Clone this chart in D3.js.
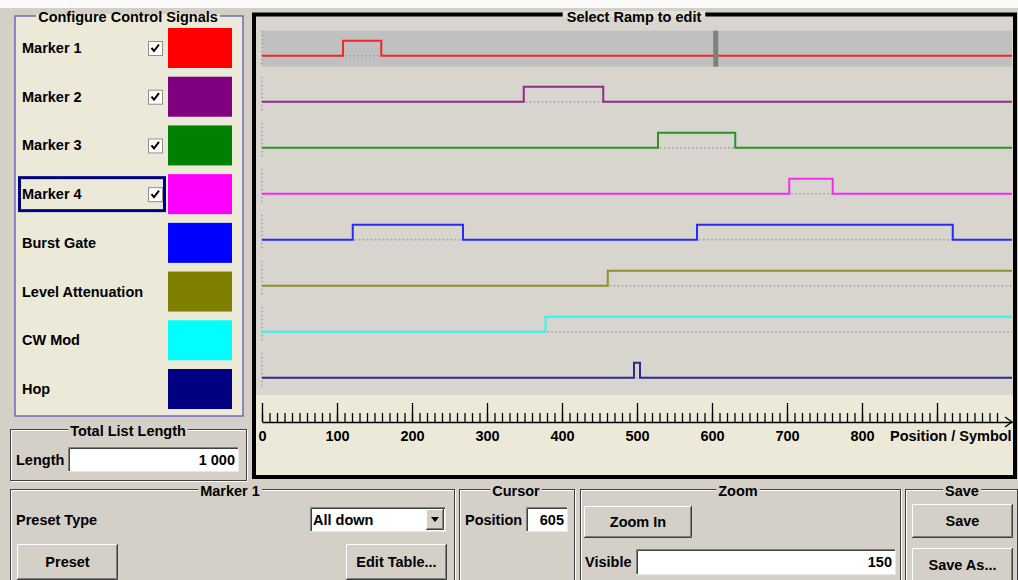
<!DOCTYPE html>
<html>
<head>
<meta charset="utf-8">
<script src="https://cdn.jsdelivr.net/npm/d3@7"></script>
<style>
  body { margin: 0; background: #d4d0c8; }
  svg { display: block; font-family: 'Liberation Sans', Arial, sans-serif; font-weight: bold; font-size: 14.5px; }
</style>
</head>
<body>
<svg id="ui" width="1018" height="580"></svg>
<script>
// control signals
const signalNames = ['Marker 1', 'Marker 2', 'Marker 3', 'Marker 4', 'Burst Gate', 'Level Attenuation', 'CW Mod', 'Hop'];
const signalColors = ['#ff0000', '#800080', '#008000', '#ff00ff', '#0000ff', '#808000', '#00ffff', '#000080'];
const signalChecked = [true, true, true, true, false, false, false, false];

// ramp "high" sections, [start, end] in symbols
const marker1High = [[108, 159]];
const marker2High = [[349, 455]];
const marker3High = [[528, 631]];
const marker4High = [[703, 761]];
const burstGateHigh = [[121, 268], [580, 921]];
const levelAttHigh = [[461, 1000]];
const cwModHigh = [[378, 1000]];
const hopHigh = [[496, 504]];
const signalHighs = [marker1High, marker2High, marker3High, marker4High, burstGateHigh, levelAttHigh, cwModHigh, hopHigh];

const totalLength = 1000;
const cursorPos = 605;
const visibleSymbols = 150;
const axisLabels = [0, 100, 200, 300, 400, 500, 600, 700, 800];
const editedSignal = 'Marker 1';
const focusedSignal = 'Marker 4';
const presetType = 'All down';

const svg = d3.select('#ui');
const bg = '#d4d0c8', beige = '#ece9d8';

svg.append('rect').attr('width', 1018).attr('height', 8).attr('fill', '#fafafa');

// ---------- helpers ----------
// title sitting in a gap of a frame line
function frameTitle(parent, tx, ty, label, gapFill, gapY, gapH, pad) {
  const gap = parent.append('rect').attr('y', gapY).attr('height', gapH).attr('fill', gapFill);
  const t = parent.append('text').attr('x', tx).attr('y', ty).attr('text-anchor', 'middle').text(label);
  const w = t.node().getComputedTextLength();
  gap.attr('x', tx - w / 2 - pad).attr('width', w + 2 * pad);
}
function groupBox(x, y, w, h, title, tx) {
  const g = svg.append('g');
  g.append('rect').attr('x', x + 1.5).attr('y', y + 1.5).attr('width', w).attr('height', h)
    .attr('fill', 'none').attr('stroke', '#fff');
  g.append('rect').attr('x', x + 0.5).attr('y', y + 0.5).attr('width', w).attr('height', h)
    .attr('fill', 'none').attr('stroke', '#404040');
  frameTitle(g, tx, y + 7, title, bg, y - 2, 6, 2);
  return g;
}
function button(x, y, w, h, label) {
  const g = svg.append('g');
  g.append('rect').attr('x', x).attr('y', y).attr('width', w).attr('height', h).attr('fill', bg);
  g.append('path').attr('d', `M${x + 0.5},${y + h} V${y + 0.5} H${x + w}`).attr('stroke', '#fff').attr('fill', 'none');
  g.append('path').attr('d', `M${x},${y + h - 0.5} H${x + w - 0.5} V${y}`).attr('stroke', '#404040').attr('fill', 'none');
  g.append('path').attr('d', `M${x + 1},${y + h - 1.5} H${x + w - 1.5} V${y + 1}`).attr('stroke', '#808080').attr('fill', 'none');
  g.append('text').attr('x', x + w / 2).attr('y', y + h / 2 + 5).attr('text-anchor', 'middle').text(label);
}
function field(x, y, w, h, value) {
  const g = svg.append('g');
  g.append('rect').attr('x', x).attr('y', y).attr('width', w).attr('height', h).attr('fill', '#fff');
  g.append('path').attr('d', `M${x + 0.5},${y + h} V${y + 0.5} H${x + w}`).attr('stroke', '#808080').attr('fill', 'none');
  g.append('path').attr('d', `M${x + 1.5},${y + h} V${y + 1.5} H${x + w}`).attr('stroke', '#404040').attr('fill', 'none');
  g.append('path').attr('d', `M${x},${y + h - 0.5} H${x + w - 0.5} V${y}`).attr('stroke', '#e8e8e8').attr('fill', 'none');
  g.append('text').attr('x', x + w - 4).attr('y', y + h / 2 + 5).attr('text-anchor', 'end').text(value);
}

// ---------- Configure Control Signals ----------
svg.append('rect').attr('x', 15).attr('y', 16).attr('width', 228).attr('height', 400).attr('fill', beige)
  .attr('stroke', '#5050b0').attr('stroke-width', 1.2);
frameTitle(svg.append('g'), 128, 22, 'Configure Control Signals', beige, 14, 4, 2);

const rowY = d3.scalePoint().domain(signalNames).range([48, 389]);

const rows = svg.selectAll('g.sig').data(signalNames).join('g').attr('class', 'sig');
rows.append('text').attr('x', 22).attr('y', d => rowY(d) + 5).text(d => d);
rows.append('rect').attr('x', 168).attr('y', d => rowY(d) - 20).attr('width', 64).attr('height', 40)
  .attr('fill', (d, i) => signalColors[i]);
const checks = rows.filter((d, i) => signalChecked[i]).append('g')
  .attr('transform', d => `translate(148,${rowY(d) - 7})`);
checks.append('rect').attr('x', 0.5).attr('y', 0.5).attr('width', 14).attr('height', 14).attr('fill', '#fff')
  .attr('stroke', '#909090');
checks.append('path').attr('d', 'M3.5,7 L6,10 L11,3.5').attr('fill', 'none').attr('stroke', '#000').attr('stroke-width', 2);
svg.append('rect').attr('x', 19.5).attr('y', rowY(focusedSignal) - 16.5).attr('width', 145).attr('height', 33)
  .attr('fill', 'none').attr('stroke', '#000080').attr('stroke-width', 3);

// ---------- Total List Length ----------
groupBox(10, 429, 236, 51, 'Total List Length', 128);
svg.append('text').attr('x', 16).attr('y', 465).text('Length');
field(68, 447, 171, 25, d3.format(',')(totalLength).replace(/,/g, ' '));

// ---------- Ramp chart ----------
const x = d3.scaleLinear().domain([0, totalLength]).range([262, 1012]);
const lowY = d3.scalePoint().domain(signalNames).range([55.7, 377.7]);
const level = d3.scaleLinear().domain([0, 1]).range([0, -15]);

svg.append('rect').attr('x', 256).attr('y', 16).attr('width', 757).attr('height', 379).attr('fill', '#d8d4ce');
svg.append('rect').attr('x', 256).attr('y', 395).attr('width', 757).attr('height', 80).attr('fill', beige);
svg.append('rect').attr('x', 254).attr('y', 14.5).attr('width', 761).attr('height', 462.5)
  .attr('fill', 'none').attr('stroke', '#000').attr('stroke-width', 4);
frameTitle(svg.append('g'), 634, 22, 'Select Ramp to edit', '#e2e0da', 11, 6, 4);

// selected ramp band
svg.append('rect').attr('x', x(0)).attr('y', lowY(editedSignal) - 25).attr('width', x(totalLength) - x(0)).attr('height', 36)
  .attr('fill', '#c0c0c0');

const plot = svg.append('g');
// left dotted markers
plot.selectAll('line.lm').data(signalNames).join('line').attr('class', 'lm')
  .attr('x1', x(0)).attr('x2', x(0)).attr('y1', d => lowY(d) - 25).attr('y2', d => lowY(d) + 11)
  .attr('stroke', '#a0a0a0').attr('stroke-width', 1.5).attr('stroke-dasharray', '1.5,2.5');
// dotted baselines under high sections
signalNames.forEach((name, i) => {
  plot.selectAll(null).data(signalHighs[i]).join('line')
    .attr('x1', d => x(d[0]) + 2).attr('x2', d => x(d[1])).attr('y1', lowY(name)).attr('y2', lowY(name))
    .attr('stroke', '#a0a0a0').attr('stroke-width', 1.5).attr('stroke-dasharray', '1.5,2.5');
});
// step lines
const stepLine = d3.line().curve(d3.curveStepAfter).x(d => x(d.pos)).y(d => d.y);
signalNames.forEach((name, i) => {
  const pts = [{ pos: 0, y: lowY(name) + level(0) }];
  signalHighs[i].forEach(([a, b]) => {
    pts.push({ pos: a, y: lowY(name) + level(1) });
    pts.push({ pos: b, y: lowY(name) + level(b >= totalLength ? 1 : 0) });
  });
  pts.push({ pos: totalLength, y: pts[pts.length - 1].y });
  plot.append('path').attr('d', stepLine(pts)).attr('fill', 'none')
    .attr('stroke', signalColors[i]).attr('stroke-width', 2).attr('stroke-opacity', 0.8);
});
// cursor
svg.append('rect').attr('x', x(cursorPos) - 2.5).attr('y', lowY(editedSignal) - 25).attr('width', 5).attr('height', 36)
  .attr('fill', '#808080');

// axis
const axisG = svg.append('g').attr('transform', 'translate(0,422)');
axisG.append('g').call(d3.axisTop(x).tickValues(d3.range(0, 990, 10)).tickSize(9).tickSizeOuter(0).tickFormat(''));
axisG.append('g').call(d3.axisTop(x).tickValues(d3.range(0, 1000, 100)).tickSize(19).tickSizeOuter(0).tickFormat(''))
  .select('.domain').remove();
axisG.selectAll('line, path').attr('stroke', '#000').attr('stroke-width', 1.3);
axisG.append('path').attr('d', `M${x(totalLength) - 7},-5 L${x(totalLength)},0 L${x(totalLength) - 7},5`)
  .attr('fill', 'none').attr('stroke', '#000').attr('stroke-width', 1.3);
const lab = svg.append('g').attr('transform', 'translate(0,431)')
  .call(d3.axisBottom(x).tickValues(axisLabels).tickSize(0).tickPadding(0));
lab.attr('font-family', null).attr('font-size', null);
lab.select('.domain').remove();
lab.selectAll('text').attr('fill', '#000');
svg.append('text').attr('x', 890).attr('y', 441).text('Position / Symbol');

// ---------- bottom panels ----------
groupBox(10, 489, 444, 110, 'Marker 1', 230);
svg.append('text').attr('x', 16).attr('y', 525).text('Preset Type');
field(310, 507, 136, 25, '');
svg.append('text').attr('x', 313).attr('y', 525).text(presetType);
button(426, 509, 18, 21, '');
svg.append('path').attr('d', 'M431,517 h8 l-4,5 z').attr('fill', '#000');
button(17, 544, 101, 36, 'Preset');
button(346, 544, 101, 36, 'Edit Table...');

groupBox(459, 489, 115, 110, 'Cursor', 516);
svg.append('text').attr('x', 465).attr('y', 525).text('Position');
field(526, 507, 42, 25, cursorPos);

groupBox(580, 489, 320, 110, 'Zoom', 738);
button(584, 506, 108, 32, 'Zoom In');
svg.append('text').attr('x', 585).attr('y', 567).text('Visible');
field(636, 549, 260, 26, visibleSymbols);

groupBox(905, 489, 112, 110, 'Save', 962);
button(912, 504, 101, 34, 'Save');
button(912, 548, 101, 34, 'Save As...');
</script>
</body>
</html>
